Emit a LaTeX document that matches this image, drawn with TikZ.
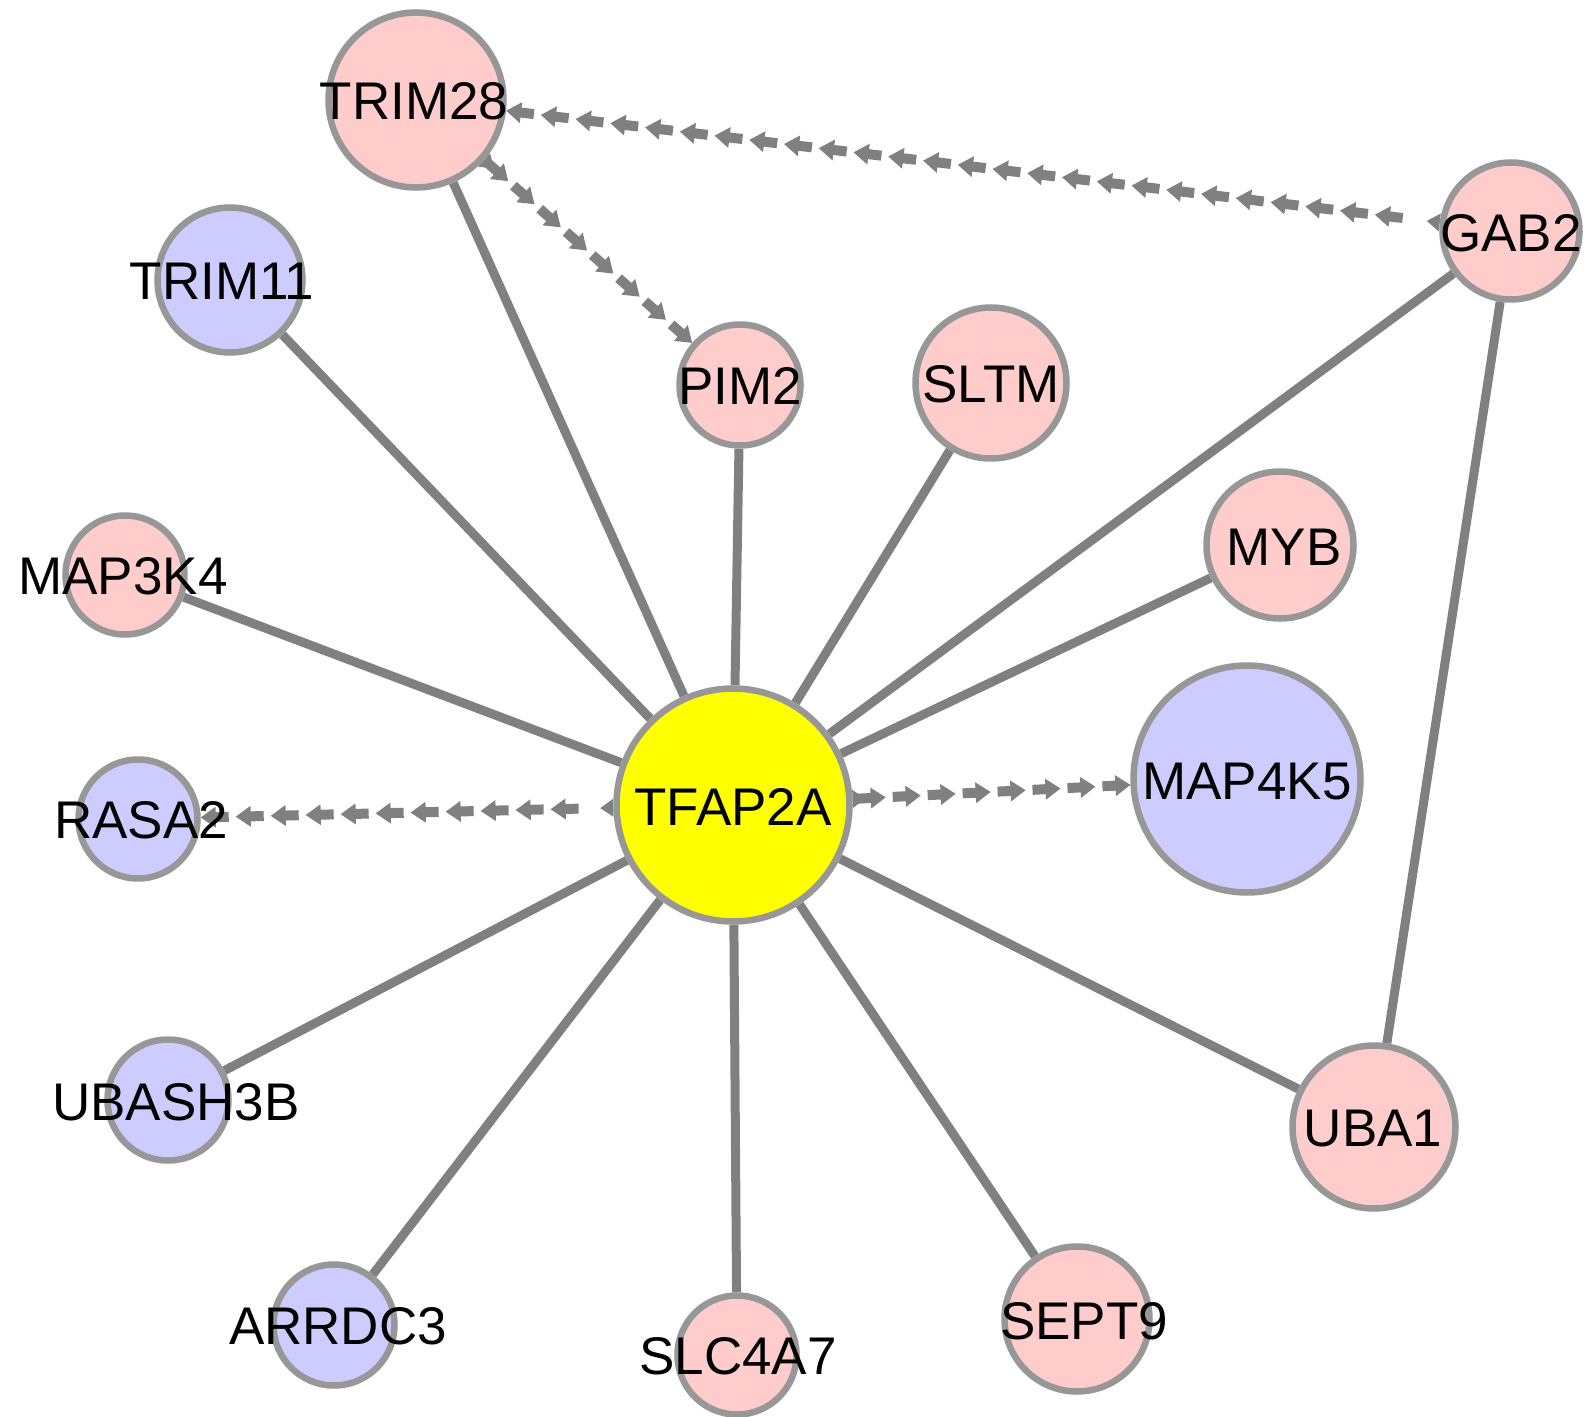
\documentclass[tikz,border=0pt]{standalone}
\usepackage{fontspec}
\setmainfont{Liberation Sans}
\usetikzlibrary{decorations.markings,backgrounds}
\definecolor{edgec}{HTML}{808080}
\definecolor{bordc}{HTML}{979797}
\definecolor{pinkc}{HTML}{FFCCCC}
\definecolor{bluec}{HTML}{CCCCFF}
\definecolor{yelc}{HTML}{FFFF00}
\tikzset{
  gnode/.style={circle,draw=bordc,line width=3.25pt,inner sep=0pt,minimum size={(#1-1.5)*1pt}},
  pinknode/.style={gnode=#1,fill=pinkc},
  bluenode/.style={gnode=#1,fill=bluec},
  lbl/.style={inner sep=0pt,font=\fontsize{26.5}{30}\selectfont,text=black},
  solidedge/.style={draw=edgec,line width=4.5pt},
  dasharr/.style={decoration={markings,
    mark=between positions 0 and -16pt step 17.5pt with {\fill[edgec] (0,0) -- (7.5pt,5.25pt) -- (7.5pt,2.5pt) -- (14pt,2.5pt) -- (14pt,-2.5pt) -- (7.5pt,-2.5pt) -- (7.5pt,-5.25pt) -- cycle;},
    mark=at position 1 with {\fill[edgec] (0,4.5pt) -- (-6.5pt,0) -- (0,-4.5pt) -- cycle;}
  }, decorate}
}
\begin{document}
\begin{tikzpicture}[x=0.5pt,y=-0.5pt]
\useasboundingbox (0,0) rectangle (1591,1417);
% nodes
\node[gnode=118,fill=yelc] (tfap) at (733,805) {};
\node[pinknode=89] (trim28) at (416,100) {};
\node[bluenode=74] (trim11) at (230,280) {};
\node[pinknode=62] (pim2) at (740,385) {};
\node[pinknode=77] (sltm) at (991,383) {};
\node[pinknode=70] (gab2) at (1511,231) {};
\node[pinknode=75] (myb) at (1280,545) {};
\node[pinknode=61] (map3k4) at (125,575) {};
\node[bluenode=115] (map4k5) at (1247,779) {};
\node[bluenode=61] (rasa2) at (138,819) {};
\node[bluenode=62] (ubash) at (168,1100) {};
\node[pinknode=83] (uba1) at (1374,1127) {};
\node[bluenode=62] (arrdc) at (334,1325) {};
\node[pinknode=61] (slc) at (737,1355) {};
\node[pinknode=74] (sept9) at (1077,1319) {};
% labels
\node[lbl] (ltfap) at (733,807) {TFAP2A};
\node[lbl] (ltrim28) at (414,101) {TRIM28};
\node[lbl] (ltrim11) at (222,281) {TRIM11};
\node[lbl] (lpim2) at (740,386) {PIM2};
\node[lbl] (lsltm) at (991,384) {SLTM};
\node[lbl] (lgab2) at (1511,233) {GAB2};
\node[lbl] (lmyb) at (1284,547) {MYB};
\node[lbl] (lmap3k4) at (123,576) {MAP3K4};
\node[lbl] (lmap4k5) at (1247,782) {MAP4K5};
\node[lbl] (lrasa2) at (141,820) {RASA2};
\node[lbl] (lubash) at (176,1102) {UBASH3B};
\node[lbl] (luba1) at (1373,1129) {UBA1};
\node[lbl] (larrdc) at (338,1326) {ARRDC3};
\node[lbl] (lslc) at (738,1356) {SLC4A7};
\node[lbl] (lsept9) at (1084,1321) {SEPT9};
\begin{pgfonlayer}{background}
\foreach \t in {trim28,trim11,pim2,sltm,gab2,myb,map3k4,ubash,arrdc,slc,sept9,uba1}
  \draw[solidedge] (tfap) -- (\t);
\draw[solidedge] (gab2) -- (uba1);
% dashed arrows: path drawn from target to source
\path[dasharr] (trim28) -- (gab2);
\path[dasharr] (pim2) -- (trim28);
\path[dasharr] (rasa2) -- (tfap);
\path[dasharr] (map4k5) -- (tfap);
\end{pgfonlayer}
\end{tikzpicture}
\end{document}
